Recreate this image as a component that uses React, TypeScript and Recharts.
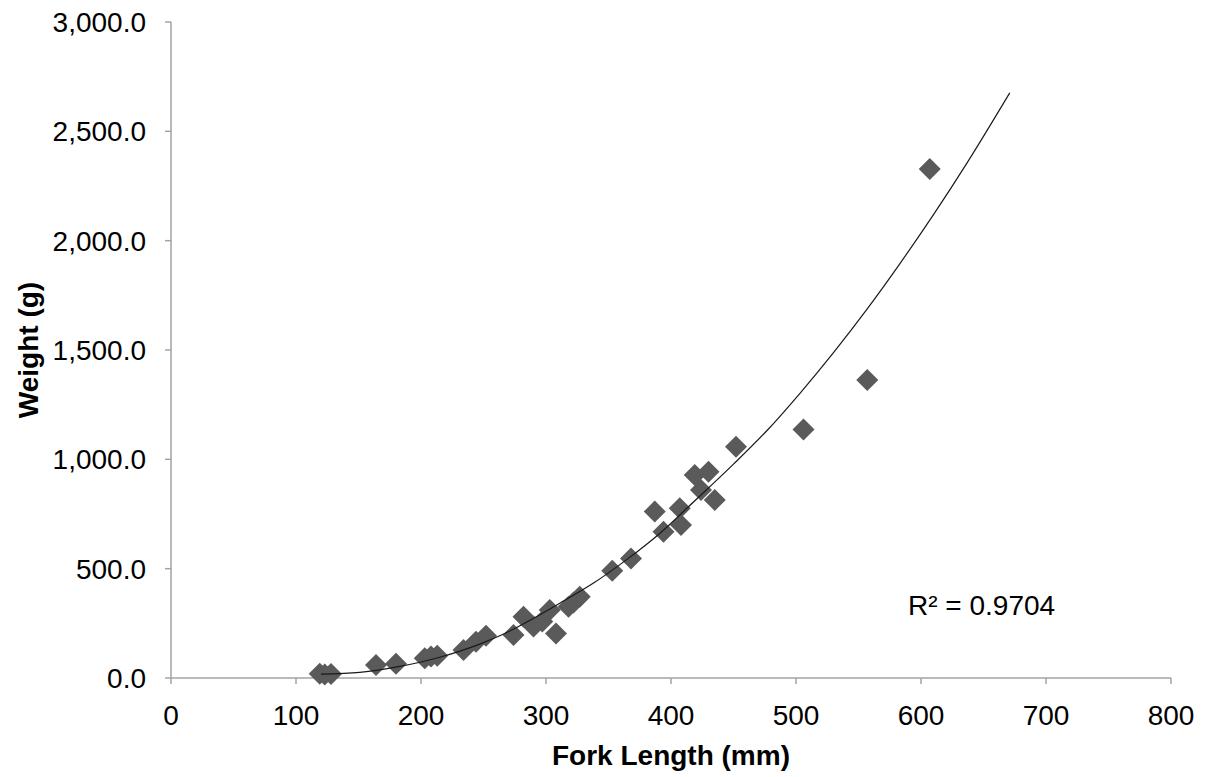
import { ScatterChart, Scatter, XAxis, YAxis, Label } from 'recharts';

// fork length (mm) / weight (g)
const lengths = [
  119, 123, 128, 164, 180, 203, 208, 213, 234, 244, 252, 274, 282, 290, 297, 303, 308,
  318, 322, 327, 353, 368, 387, 394, 407, 408, 419, 424, 430, 435, 452, 506, 557, 607,
];
const weights = [
  20, 16, 18, 59, 65, 90, 98, 102, 128, 166, 193, 197, 280, 235, 258, 311, 204,
  326, 345, 372, 490, 547, 761, 669, 776, 700, 928, 860, 943, 814, 1058, 1137, 1363, 2328,
];

// polynomial trendline as drawn in the figure
const trendLengths = [120, 151, 183, 215, 247, 263, 311, 338, 364, 391, 418, 450, 477, 503, 530, 557, 583, 610, 637, 671];
const trendWeights = [18, 26, 53, 95, 155, 193, 342, 434, 539, 661, 805, 978, 1133, 1301, 1488, 1688, 1894, 2119, 2357, 2676];

const xTicks = [0, 100, 200, 300, 400, 500, 600, 700, 800];
const yTicks = [0, 500, 1000, 1500, 2000, 2500, 3000];
const rSquared = 'R² = 0.9704';

const points = lengths.map((x, i) => ({ x, y: weights[i] }));
const trend = trendLengths.map((x, i) => ({ x, y: trendWeights[i] }));

const FONT = '"Liberation Sans", Arial, sans-serif';
const AXIS = '#a3a3a3';

const Diamond = (props: any) => {
  const { cx, cy } = props;
  const r = 11;
  return (
    <polygon
      points={`${cx},${cy - r} ${cx + r},${cy} ${cx},${cy + r} ${cx - r},${cy}`}
      fill="#5a5a5a"
    />
  );
};

const fmt = (v: number) =>
  v.toLocaleString('en-US', { minimumFractionDigits: 1, maximumFractionDigits: 1 });

export default function App() {
  return (
    <div style={{ position: 'absolute', left: 0, top: 0, width: 1206, height: 777, background: '#fff', fontFamily: FONT }}>
      <ScatterChart width={1206} height={777} margin={{ top: 22, right: 35, bottom: 0, left: 0 }}>
        <XAxis
          type="number"
          dataKey="x"
          domain={[0, 800]}
          ticks={xTicks}
          height={99}
          stroke={AXIS}
          strokeWidth={1.5}
          tickSize={6}
          tickMargin={21}
          tick={{ fill: '#000', fontSize: 28, fontFamily: FONT }}
        >
          <Label
            value="Fork Length (mm)"
            position="insideBottom"
            offset={12}
            style={{ fontSize: 28, fontWeight: 'bold', fill: '#000', fontFamily: FONT }}
          />
        </XAxis>
        <YAxis
          type="number"
          dataKey="y"
          domain={[0, 3000]}
          ticks={yTicks}
          width={171}
          stroke={AXIS}
          strokeWidth={1.5}
          tickSize={6}
          tickMargin={19}
          tickFormatter={fmt}
          tick={{ fill: '#000', fontSize: 28, fontFamily: FONT }}
        >
          <Label
            content={(p: any) => {
              const vb = p.viewBox;
              const cx = 28;
              const cy = vb.y + vb.height / 2;
              return (
                <text
                  x={cx}
                  y={cy}
                  transform={`rotate(-90 ${cx} ${cy})`}
                  textAnchor="middle"
                  dominantBaseline="central"
                  style={{ fontSize: 28, fontWeight: 'bold', fill: '#000', fontFamily: FONT }}
                >
                  Weight (g)
                </text>
              );
            }}
          />
        </YAxis>
        <Scatter data={points} shape={Diamond} isAnimationActive={false} />
        <Scatter
          data={trend}
          line={{ stroke: '#1a1a1a', strokeWidth: 1.2 }}
          lineJointType="monotoneX"
          shape={() => <g />}
          isAnimationActive={false}
        />
      </ScatterChart>
      <div style={{ position: 'absolute', left: 908, top: 590, fontSize: 28, color: '#000', lineHeight: '32px', whiteSpace: 'nowrap' }}>
        {rSquared}
      </div>
    </div>
  );
}
